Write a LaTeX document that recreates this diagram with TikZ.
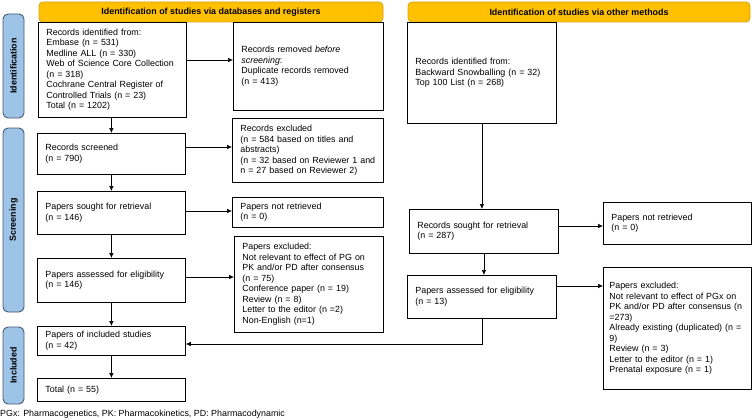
\documentclass[tikz,border=0pt]{standalone}
\usepackage{fontspec}
\setmainfont{Liberation Sans}
\usetikzlibrary{arrows.meta}
\definecolor{headgold}{RGB}{255,192,0}
\definecolor{headedge}{RGB}{214,163,20}
\definecolor{sideblue}{RGB}{157,195,230}
\definecolor{sideedge}{RGB}{70,90,115}
\newcommand{\boxfont}{\fontsize{8.9}{10.5}\selectfont}
\tikzset{
    rec/.style={draw, anchor=north west, align=left, inner xsep=8pt, inner ysep=2pt, line width=0.8pt, font=\boxfont},
    banner/.style={draw=headedge, fill=headgold, rounded corners=4pt, line width=0.8pt, font=\boxfont\bfseries},
    side/.style={draw=sideedge, fill=sideblue, rounded corners=5pt, line width=0.9pt, rotate=90, font=\boxfont\bfseries},
    arr/.style={-{Latex[length=5pt,width=4.5pt]}, line width=0.6pt}
}
\begin{document}
\begin{tikzpicture}[x=1pt, y=-1pt]
    \useasboundingbox (0,0) rectangle (752,420);

    % headers
    \node[banner, minimum width=344pt, minimum height=20pt] (headL) at (211,12) {Identification of studies via databases and registers};
    \node[banner, minimum width=342pt, minimum height=20pt] (headR) at (579,12) {Identification of studies via other methods};

    % phases
    \node[side, minimum width=104pt, minimum height=21pt] (phaseI) at (13.5,66) {Identification};
    \node[side, minimum width=184pt, minimum height=21pt] (phaseS) at (13.5,220) {Screening};
    \node[side, minimum width=77pt, minimum height=21pt] (phaseN) at (13.5,365.5) {Included};

    % databases and registers
    \node[rec, minimum width=148pt, minimum height=95pt, text width=132pt] (ident) at (38,22)
        {Records identified from:\\ Embase (n = 531)\\ Medline ALL (n = 330)\\ Web of Science Core Collection\\ (n = 318)\\ Cochrane Central Register of\\ Controlled Trials (n = 23)\\ Total (n = 1202)};
    \node[rec, minimum width=150pt, minimum height=88pt, text width=134pt] (removed) at (233,22)
        {Records removed \textit{before}\\ \textit{screening}:\\ Duplicate records removed\\ (n = 413)};
    \node[rec, minimum width=148pt, minimum height=41pt, text width=132pt] (screened) at (37,133)
        {Records screened\\ (n = 790)};
    \node[rec, minimum width=151pt, minimum height=64pt, text width=135pt] (excluded) at (232,118)
        {Records excluded\\ (n = 584 based on titles and\\ abstracts)\\ (n = 32 based on Reviewer 1 and\\ n = 27 based on Reviewer 2)};
    \node[rec, minimum width=148pt, minimum height=43pt, text width=132pt] (sought) at (37,191)
        {Papers sought for retrieval\\ (n = 146)};
    \node[rec, minimum width=151pt, minimum height=30pt, text width=135pt] (notret) at (232,197)
        {Papers not retrieved\\ (n = 0)};
    \node[rec, minimum width=148pt, minimum height=44pt, text width=132pt] (assessed) at (37,258)
        {Papers assessed for eligibility\\ (n = 146)};
    \node[rec, minimum width=149pt, minimum height=96pt, text width=133pt] (pexcl) at (234,236)
        {Papers excluded:\\ Not relevant to effect of PG on\\ PK and/or PD after consensus\\ (n = 75)\\ Conference paper (n = 19)\\ Review (n = 8)\\ Letter to the editor (n =2)\\ Non-English (n=1)};
    \node[rec, minimum width=148pt, minimum height=29pt, text width=132pt] (incl) at (37,326)
        {Papers of included studies\\ (n = 42)};
    \node[rec, minimum width=148pt, minimum height=23pt, text width=132pt] (total) at (37,378)
        {Total (n = 55)};

    % other methods
    \node[rec, minimum width=149pt, minimum height=101pt, text width=133pt] (identO) at (407,22)
        {Records identified from:\\ Backward Snowballing (n = 32)\\ Top 100 List (n = 268)};
    \node[rec, minimum width=149pt, minimum height=44pt, text width=133pt] (soughtO) at (409,209)
        {Records sought for retrieval\\ (n = 287)};
    \node[rec, minimum width=148pt, minimum height=42pt, text width=132pt] (notretO) at (603,202)
        {Papers not retrieved\\ (n = 0)};
    \node[rec, minimum width=149pt, minimum height=43pt, text width=133pt] (assessedO) at (407,275)
        {Papers assessed for eligibility\\ (n = 13)};
    \node[rec, inner xsep=6pt, minimum width=148pt, minimum height=122pt, text width=136pt] (pexclO) at (603,267)
        {Papers excluded:\\ Not relevant to effect of PGx on\\ PK and/or PD after consensus (n\\ =273)\\ Already existing (duplicated) (n =\\ 9)\\ Review (n = 3)\\ Letter to the editor (n = 1)\\ Prenatal exposure (n = 1)};

    % left flow
    \draw[arr] (screened.north |- ident.south) -- (screened);
    \draw[arr] (screened) -- (sought);
    \draw[arr] (sought) -- (assessed);
    \draw[arr] (assessed) -- (incl);
    \draw[arr] (incl) -- (total);
    \draw[arr] (ident.east |- 0,60) -- (removed.west |- 0,60);
    \draw[arr] (screened.east |- 0,147) -- (excluded.west |- 0,147);
    \draw[arr] (sought.east |- 0,211) -- (notret.west |- 0,211);
    \draw[arr] (assessed.east |- 0,277) -- (pexcl.west |- 0,277);

    % right flow
    \draw[arr] (identO.south) -- (identO.south |- soughtO.north);
    \draw[arr] (soughtO.south) -- (soughtO.south |- assessedO.north);
    \draw[arr] (soughtO.east |- 0,226) -- (notretO.west |- 0,226);
    \draw[arr] (assessedO.east |- 0,286) -- (pexclO.west |- 0,286);
    \draw[arr] (assessedO.south) |- (incl.east |- 0,344);

    \node[anchor=west, inner sep=0pt, font=\boxfont] (note) at (0,414) {PGx: Pharmacogenetics, PK: Pharmacokinetics, PD: Pharmacodynamic};
\end{tikzpicture}
\end{document}
